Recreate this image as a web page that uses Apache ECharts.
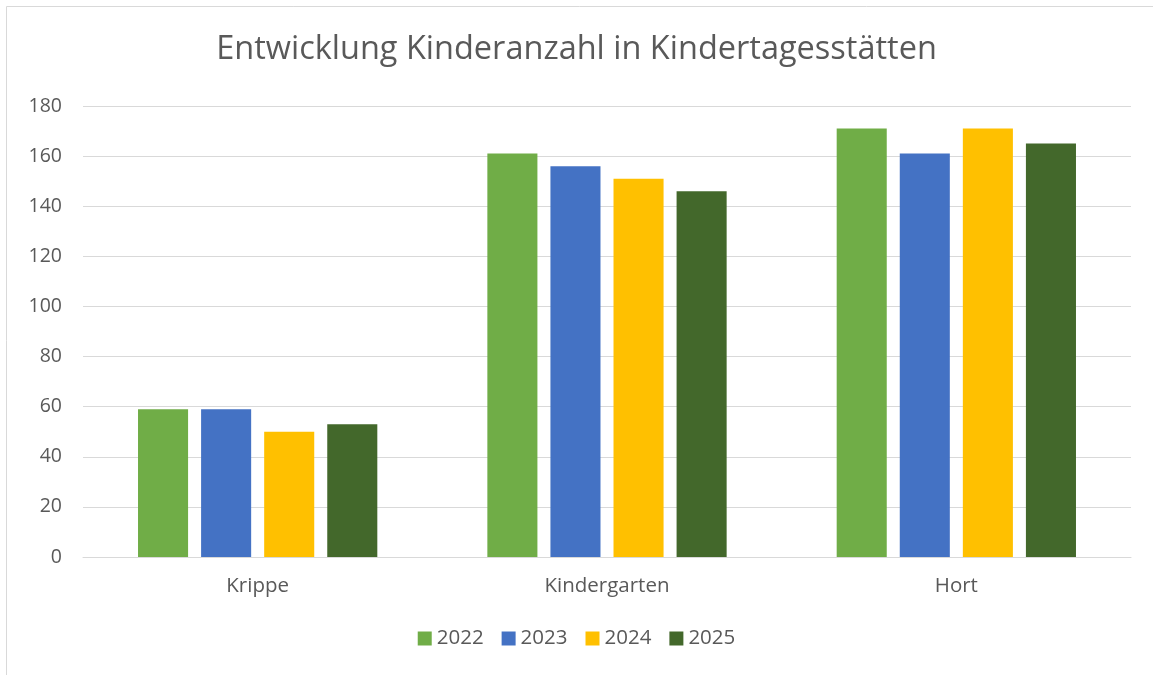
<!DOCTYPE html>
<html><head><meta charset="utf-8">
<script src="https://cdn.jsdelivr.net/npm/echarts@6/dist/echarts.min.js"></script>
<style>html,body{margin:0;padding:0;background:#fff}#c{width:1153px;height:675px}</style>
</head><body><div id="c"></div>
<script>
const categories = ['Krippe', 'Kindergarten', 'Hort'];
const years = ['2022', '2023', '2024', '2025'];
const v2022 = [59, 161, 171];
const v2023 = [59, 156, 161];
const v2024 = [50, 151, 171];
const v2025 = [53, 146, 165];
const colors = ['#70AD47', '#4472C4', '#FFC000', '#43682B'];
const values = [v2022, v2023, v2024, v2025];
const font = 'Open Sans, Liberation Sans, sans-serif';
const chart = echarts.init(document.getElementById('c'));
chart.setOption({
  animation: false,
  graphic: [
    {type:'line', shape:{x1:6.5,y1:6.5,x2:1153,y2:6.5}, style:{stroke:'#d9d9d9',lineWidth:1}, silent:true},
    {type:'line', shape:{x1:6.5,y1:6.5,x2:6.5,y2:675}, style:{stroke:'#d9d9d9',lineWidth:1}, silent:true}
  ],
  title: {text:'Entwicklung Kinderanzahl in Kindertagesstätten', left:'center', top:28,
    textStyle:{fontFamily:font, fontSize:32.5, fontWeight:'normal', color:'#595959'}},
  legend: {bottom:21, left:'center', itemWidth:14, itemHeight:14, itemGap:18, icon:'rect',
    textStyle:{fontFamily:font, fontSize:20.5, color:'#595959'}},
  grid: {left:83, right:22, top:106, bottom:118},
  xAxis: {type:'category', data:categories, axisTick:{show:false},
    axisLine:{lineStyle:{color:'#d9d9d9'}},
    axisLabel:{fontFamily:font, fontSize:20.5, color:'#595959', margin:19}},
  yAxis: {type:'value', min:0, max:180, interval:20, axisLine:{show:false}, axisTick:{show:false},
    splitLine:{lineStyle:{color:'#d9d9d9'}},
    axisLabel:{fontFamily:font, fontSize:19.5, color:'#595959', margin:21, align:'right'}},
  series: years.map((y,i)=>({name:y, type:'bar', data:values[i], itemStyle:{color:colors[i]},
    barGap:'26%', barCategoryGap:'31.5%'}))
});
</script></body></html>
